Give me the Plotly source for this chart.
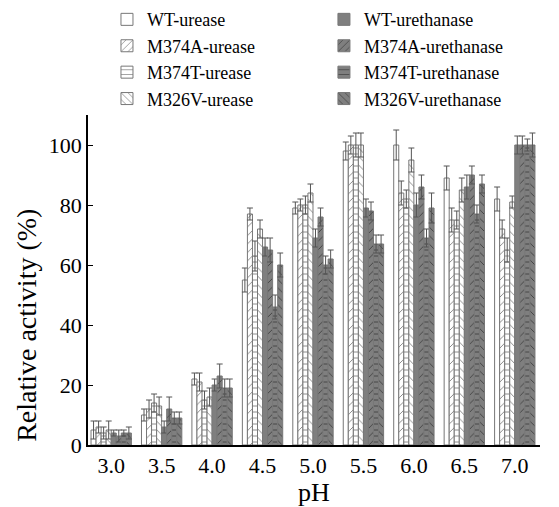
import plotly.graph_objects as go

ph = ["3.0", "3.5", "4.0", "4.5", "5.0", "5.5", "6.0", "6.5", "7.0"]

series_names = ["WT-urease", "M374A-urease", "M374T-urease", "M326V-urease",
                "WT-urethanase", "M374A-urethanase", "M374T-urethanase", "M326V-urethanase"]

wt_urease = [5, 10, 22, 55, 79, 98, 100, 89, 82]
m374a_urease = [6, 12, 21, 77, 80, 100, 84, 75, 72]
m374t_urease = [4, 14, 15, 63, 80, 100, 82, 75, 65]
m326v_urease = [5, 13, 16, 72, 84, 100, 95, 85, 81]
wt_urethanase = [4, 6, 20, 66, 69, 79, 80, 86, 100]
m374a_urethanase = [3, 12, 23, 65, 76, 78, 86, 90, 100]
m374t_urethanase = [4, 9, 19, 46, 60, 67, 69, 77, 100]
m326v_urethanase = [4, 9, 19, 60, 62, 67, 79, 87, 100]

wt_urease_err = [3, 2, 2, 4, 2, 3, 5, 4, 4]
m374a_urease_err = [2, 3, 3, 2, 2, 3, 4, 4, 3]
m374t_urease_err = [2, 3, 3, 5, 3, 4, 3, 3, 4]
m326v_urease_err = [3, 3, 3, 3, 3, 4, 4, 4, 2]
wt_urethanase_err = [1, 2, 2, 3, 3, 3, 4, 4, 3]
m374a_urethanase_err = [2, 4, 4, 4, 3, 3, 4, 3, 3]
m374t_urethanase_err = [1, 2, 3, 4, 3, 3, 3, 3, 2]
m326v_urethanase_err = [2, 2, 3, 4, 3, 3, 5, 3, 4]

values = [wt_urease, m374a_urease, m374t_urease, m326v_urease,
          wt_urethanase, m374a_urethanase, m374t_urethanase, m326v_urethanase]
errors = [wt_urease_err, m374a_urease_err, m374t_urease_err, m326v_urease_err,
          wt_urethanase_err, m374a_urethanase_err, m374t_urethanase_err, m326v_urethanase_err]

shapes = ["", "/", "-", "\\", "", "/", "-", "\\"]
fills = ["white"] * 4 + ["#7f7f7f"] * 4

fig = go.Figure()
for i, (name, v, e) in enumerate(zip(series_names, values, errors)):
    fig.add_trace(go.Bar(
        name=name, x=ph, y=v,
        error_y=dict(type="data", array=e, color="#555555", thickness=1, width=3),
        marker=dict(color=fills[i], line=dict(color="#777777", width=1),
                    pattern=dict(shape=shapes[i], fgcolor="black", bgcolor=fills[i],
                                 size=6, solidity=0.15)),
        legend="legend" if i < 4 else "legend2",
    ))

font = "Liberation Serif, Times New Roman, serif"
fig.update_layout(
    width=559, height=507,
    margin=dict(l=88, r=19, t=115, b=62, autoexpand=False),
    plot_bgcolor="white", paper_bgcolor="white",
    barmode="group", bargap=0.2, bargroupgap=0,
    font=dict(family=font, size=22, color="black"),
    showlegend=True,
    legend=dict(x=0.042, y=1.345, xanchor="left", yanchor="top",
                font=dict(size=18), tracegroupgap=0, itemwidth=30,
                bgcolor="rgba(0,0,0,0)"),
    legend2=dict(x=0.522, y=1.345, xanchor="left", yanchor="top",
                 font=dict(size=18), tracegroupgap=0, itemwidth=30,
                 bgcolor="rgba(0,0,0,0)"),
    xaxis=dict(showline=True, linecolor="black", linewidth=1.5, ticks="",
               range=[-0.46, 8.5], automargin=False,
               title=dict(text="pH", standoff=4),
               tickfont=dict(size=22)),
    yaxis=dict(showline=True, linecolor="black", linewidth=1.5, ticks="inside",
               ticklen=5, tickcolor="black", range=[0, 110], dtick=20,
               showgrid=False, zeroline=False, automargin=False,
               tickfont=dict(size=22)),
    annotations=[dict(text="Relative activity (%)", textangle=-90,
                      xref="paper", yref="paper", x=-0.135, y=0.364,
                      xanchor="center", yanchor="middle", showarrow=False,
                      font=dict(size=28))],
)

fig.write_html("out.html")
